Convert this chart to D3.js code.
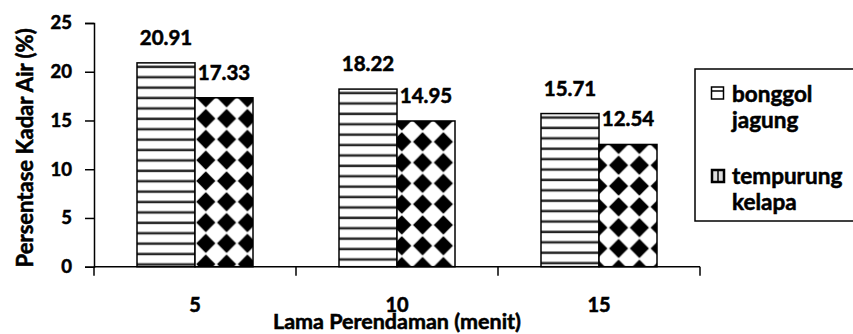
<!DOCTYPE html>
<html>
<head>
<meta charset="utf-8">
<script src="https://cdn.jsdelivr.net/npm/d3@7/dist/d3.min.js"></script>
<style>
  html, body { margin: 0; padding: 0; background: #fff; }
  svg { display: block; }
  text { font-family: Lato, "Open Sans", sans-serif; font-weight: bold; fill: #000; stroke: #000; stroke-width: 0.55px; paint-order: stroke; }
</style>
</head>
<body>
<div id="chart"></div>
<script>
// ---- data ----
const categories = ["5", "10", "15"];
const seriesNames = ["bonggol jagung", "tempurung kelapa"];
const legendLines = [["bonggol", "jagung"], ["tempurung", "kelapa"]];
const bonggolJagung = [20.91, 18.22, 15.71];
const tempurungKelapa = [17.33, 14.95, 12.54];
const yTicks = [0, 5, 10, 15, 20, 25];
const yTitle = "Persentase Kadar Air (%)";
const xTitle = "Lama Perendaman (menit)";

const W = 853, H = 334;
const svg = d3.select("#chart").append("svg").attr("width", W).attr("height", H);

const plot = { left: 94, right: 700, top: 23, bottom: 266.7 };

const x0 = d3.scaleBand().domain(categories).range([plot.left, plot.right]).paddingInner(0).paddingOuter(0);
const innerPad = 43 / 202;
const x1 = d3.scaleBand().domain(seriesNames)
  .range([x0.bandwidth() * innerPad, x0.bandwidth() * (1 - innerPad)]).padding(0);
const y = d3.scaleLinear().domain([0, 25]).range([plot.bottom, plot.top]);

const data = categories.map((c, i) => ({
  cat: c,
  vals: [
    { s: seriesNames[0], v: bonggolJagung[i] },
    { s: seriesNames[1], v: tempurungKelapa[i] }
  ]
}));

const defs = svg.append("defs");
const P = 20.8; // diamond pattern period
const L = 10.4; // line pattern period

function addLinePattern(id, bx, by) {
  const p = defs.append("pattern").attr("id", id).attr("patternUnits", "userSpaceOnUse")
    .attr("x", bx).attr("y", by + 2.2).attr("width", 200).attr("height", L);
  p.append("rect").attr("width", 200).attr("height", L).attr("fill", "#fff");
  p.append("rect").attr("y", 0).attr("width", 200).attr("height", 1).attr("fill", "#999");
  p.append("rect").attr("y", 1).attr("width", 200).attr("height", 2).attr("fill", "#222");
}
function addDiamondPattern(id, bx, by) {
  const p = defs.append("pattern").attr("id", id).attr("patternUnits", "userSpaceOnUse")
    .attr("x", bx).attr("y", by).attr("width", P).attr("height", P);
  p.append("rect").attr("width", P).attr("height", P).attr("fill", "#fff");
  const h = P / 2 * 0.92;
  [[0, 0], [P, 0], [0, P], [P, P]].forEach(([cx, cy]) => {
    p.append("path")
      .attr("d", `M${cx},${cy - h}L${cx + h},${cy}L${cx},${cy + h}L${cx - h},${cy}Z`)
      .attr("fill", "#000");
  });
}

// ---- bars ----
const groups = svg.append("g").selectAll("g").data(data).join("g")
  .attr("transform", d => `translate(${x0(d.cat)},0)`);

groups.each(function(d, gi) {
  const g = d3.select(this);
  d.vals.forEach((e, si) => {
    const bx = x0(d.cat) + x1(e.s);
    const by = y(e.v);
    const id = `pat${gi}_${si}`;
    if (si === 0) addLinePattern(id, bx, by); else addDiamondPattern(id, bx, by);
    g.append("rect")
      .attr("x", x1(e.s)).attr("y", by)
      .attr("width", x1.bandwidth()).attr("height", y(0) - by)
      .attr("fill", `url(#${id})`)
      .attr("stroke", "#000").attr("stroke-width", 1.5);
    g.append("text")
      .attr("x", x1(e.s) + x1.bandwidth() / 2)
      .attr("y", by - 18)
      .attr("text-anchor", "middle")
      .attr("font-size", 20.5)
      .text(e.v.toFixed(2));
  });
});

// ---- axes ----
const yAxis = d3.axisLeft(y).tickValues(yTicks).tickSize(9).tickPadding(13).tickFormat(d3.format("d"));
const yg = svg.append("g").attr("transform", `translate(${plot.left},0)`).call(yAxis);
yg.select(".domain").attr("stroke", "#000").attr("stroke-width", 1.5);
yg.selectAll(".tick line").attr("stroke", "#000").attr("stroke-width", 1.5);
yg.selectAll(".tick text").attr("font-size", 18.5).attr("font-family", "Lato").attr("font-weight", "bold").attr("fill", "#000");

// x axis line and tick marks at band boundaries
const xg = svg.append("g");
xg.append("line").attr("x1", plot.left).attr("x2", plot.right)
  .attr("y1", y(0)).attr("y2", y(0)).attr("stroke", "#000").attr("stroke-width", 1.5);
const boundaries = categories.map(c => x0(c)).concat([x0(categories[categories.length - 1]) + x0.bandwidth()]);
xg.selectAll("line.tk").data(boundaries).join("line").attr("class", "tk")
  .attr("x1", d => d).attr("x2", d => d)
  .attr("y1", y(0)).attr("y2", y(0) + 9)
  .attr("stroke", "#000").attr("stroke-width", 1.5);
xg.selectAll("text.cat").data(categories).join("text").attr("class", "cat")
  .attr("x", d => x0(d) + x0.bandwidth() / 2)
  .attr("y", 312)
  .attr("text-anchor", "middle")
  .attr("font-size", 20)
  .text(d => d);

// axis titles
svg.append("text")
  .attr("transform", `translate(33,${(plot.top + plot.bottom) / 2 + 3}) rotate(-90)`)
  .attr("text-anchor", "middle")
  .attr("font-size", 22)
  .text(yTitle);
svg.append("text")
  .attr("x", (plot.left + plot.right) / 2)
  .attr("y", 328.5)
  .attr("text-anchor", "middle")
  .attr("font-size", 21.5)
  .text(xTitle);

// ---- legend ----
const lg = svg.append("g");
lg.append("rect").attr("x", 695).attr("y", 69).attr("width", 200).attr("height", 152)
  .attr("fill", "#fff").attr("stroke", "#000").attr("stroke-width", 1.5);
const legendY = [102, 184];
legendLines.forEach((lines, i) => {
  const ty = legendY[i];
  const iy = ty - 15;
  if (i === 0) {
    lg.append("rect").attr("x", 711.5).attr("y", iy).attr("width", 12).attr("height", 12)
      .attr("fill", "#fff").attr("stroke", "#000").attr("stroke-width", 1.5);
    lg.append("line").attr("x1", 711.5).attr("x2", 723.5).attr("y1", iy + 4).attr("y2", iy + 4)
      .attr("stroke", "#000").attr("stroke-width", 1.5);
  } else {
    lg.append("rect").attr("x", 712).attr("y", iy + 1).attr("width", 12).attr("height", 12)
      .attr("fill", "#ddd").attr("stroke", "#000").attr("stroke-width", 2.5);
    lg.append("line").attr("x1", 718).attr("x2", 718).attr("y1", iy + 1).attr("y2", iy + 13)
      .attr("stroke", "#000").attr("stroke-width", 1.5);
  }
  lines.forEach((t, j) => {
    lg.append("text").attr("x", 732).attr("y", ty + j * 26)
      .attr("font-size", 22.5).text(t);
  });
});
</script>
</body>
</html>
